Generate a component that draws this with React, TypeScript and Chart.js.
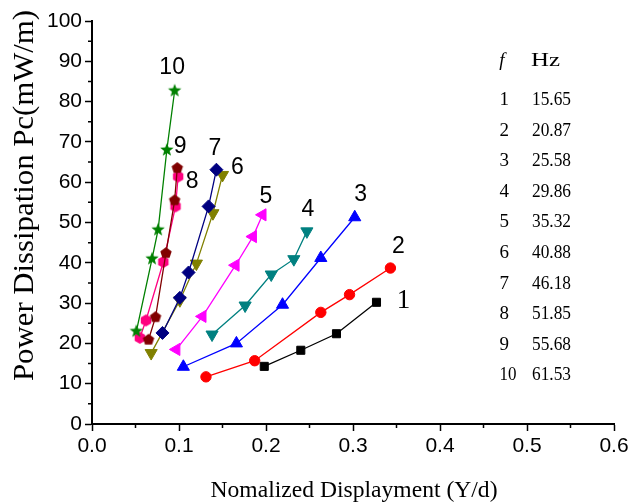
import React, { useEffect, useRef } from "react";
import { Chart, registerables } from "chart.js";

Chart.register(...registerables);

// ---- data ----
const seriesNames = ["1", "2", "3", "4", "5", "6", "7", "8", "9", "10"];
const freqHz = ["15.65", "20.87", "25.58", "29.86", "35.32", "40.88", "46.18", "51.85", "55.68", "61.53"];

const s1x = [0.198, 0.240, 0.281, 0.327];
const s1y = [14.3, 18.3, 22.4, 30.2];
const s2x = [0.131, 0.187, 0.263, 0.296, 0.343];
const s2y = [11.7, 15.7, 27.7, 32.1, 38.7];
const s3x = [0.105, 0.166, 0.219, 0.263, 0.302];
const s3y = [14.2, 20.0, 29.6, 41.2, 51.3];
const s4x = [0.138, 0.176, 0.206, 0.232, 0.247];
const s4y = [22.2, 29.4, 37.1, 40.9, 47.8];
const s5x = [0.097, 0.127, 0.165, 0.185, 0.196];
const s5y = [18.5, 26.7, 39.4, 46.5, 51.9];
const s6x = [0.068, 0.101, 0.120, 0.139, 0.150];
const s6y = [17.6, 30.7, 39.8, 52.3, 61.8];
const s7x = [0.081, 0.101, 0.111, 0.134, 0.143];
const s7y = [22.6, 31.3, 37.6, 54.0, 63.1];
const s8x = [0.055, 0.062, 0.082, 0.096, 0.099];
const s8y = [21.4, 25.7, 40.2, 54.0, 61.4];
const s9x = [0.065, 0.073, 0.085, 0.095, 0.098];
const s9y = [20.9, 26.5, 42.4, 55.5, 63.5];
const s10x = [0.051, 0.069, 0.076, 0.086, 0.095];
const s10y = [23.0, 41.0, 48.2, 68.0, 82.7];

const xTickValues = [0, 0.1, 0.2, 0.3, 0.4, 0.5, 0.6];
const yTickValues = [0, 10, 20, 30, 40, 50, 60, 70, 80, 90, 100];
const xTitle = "Nomalized Displayment (Y/d)";
const yTitle = "Power Dissipation Pc(mW/m)";

// ---- styles ----
const colors = ["#000000", "#FF0000", "#0000FF", "#008080", "#FF00FF", "#808000", "#000080", "#FF0080", "#800000", "#008000"];
const labelOffsets = [[27, -1.5], [8, -21], [6, -22.5], [1, -21.5], [3.5, -18.5], [15, -7], [-1.5, -21.5], [14, 5], [3, -21.5], [-2.5, -23.5]];

const SANS = "'Liberation Sans', Arial, sans-serif";
const SERIF = "'Liberation Serif', 'Times New Roman', serif";

function makeMarker(kind: string, color: string, R: number): HTMLCanvasElement {
  const s = Math.ceil(R * 2 + 2);
  const c = document.createElement("canvas");
  c.width = s;
  c.height = s;
  const g = c.getContext("2d")!;
  const cx = s / 2, cy = s / 2;
  g.beginPath();
  if (kind === "star") {
    const r = R * 0.42;
    for (let k = 0; k < 10; k++) {
      const a = -Math.PI / 2 + (k * Math.PI) / 5;
      const rr = k % 2 === 0 ? R : r;
      const px = cx + rr * Math.cos(a), py = cy + rr * Math.sin(a);
      if (k === 0) g.moveTo(px, py); else g.lineTo(px, py);
    }
  } else {
    const n = kind === "pentagon" ? 5 : 6;
    for (let k = 0; k < n; k++) {
      const a = -Math.PI / 2 + (k * 2 * Math.PI) / n;
      const px = cx + R * Math.cos(a), py = cy + R * Math.sin(a);
      if (k === 0) g.moveTo(px, py); else g.lineTo(px, py);
    }
  }
  g.closePath();
  g.fillStyle = color;
  g.fill();
  return c;
}

function fitText(ctx: CanvasRenderingContext2D, text: string, x: number, y: number, font: string, targetW: number | null, align: CanvasTextAlign, rot = 0) {
  ctx.save();
  ctx.font = font;
  ctx.textAlign = align;
  ctx.textBaseline = "alphabetic";
  ctx.fillStyle = "#000";
  const w = ctx.measureText(text).width;
  const sx = targetW ? targetW / w : 1;
  ctx.translate(x, y);
  if (rot) ctx.rotate(rot);
  ctx.scale(sx, 1);
  ctx.fillText(text, 0, 0);
  ctx.restore();
}

export default function App() {
  const ref = useRef<HTMLCanvasElement>(null);
  useEffect(() => {
    const xs = [s1x, s2x, s3x, s4x, s5x, s6x, s7x, s8x, s9x, s10x];
    const ys = [s1y, s2y, s3y, s4y, s5y, s6y, s7y, s8y, s9y, s10y];
    const styles: any[] = [
      { pointStyle: "rect", pointRadius: 5.7, pointRotation: 0 },
      { pointStyle: "circle", pointRadius: 5.2, pointRotation: 0 },
      { pointStyle: "triangle", pointRadius: 7, pointRotation: 0 },
      { pointStyle: "triangle", pointRadius: 7, pointRotation: 180 },
      { pointStyle: "triangle", pointRadius: 7, pointRotation: 270 },
      { pointStyle: "triangle", pointRadius: 7, pointRotation: 180 },
      { pointStyle: "rectRot", pointRadius: 6.5, pointRotation: 0 },
      { pointStyle: makeMarker("hexagon", colors[7], 6), pointRadius: 6, pointRotation: 0 },
      { pointStyle: makeMarker("pentagon", colors[8], 6), pointRadius: 6, pointRotation: 0 },
      { pointStyle: makeMarker("star", colors[9], 7), pointRadius: 7, pointRotation: 0 },
    ];
    const datasets = xs.map((xa, i) => ({
      label: seriesNames[i],
      data: xa.map((x, j) => ({ x, y: ys[i][j] })),
      showLine: true,
      borderColor: colors[i],
      backgroundColor: colors[i],
      borderWidth: 1.3,
      pointBorderColor: colors[i],
      pointBackgroundColor: colors[i],
      pointBorderWidth: 1,
      order: 10 - i,
      ...styles[i],
    }));

    const overlay = {
      id: "overlay",
      afterDraw(chart: any) {
        const ctx = chart.ctx as CanvasRenderingContext2D;
        const xS = chart.scales.x, yS = chart.scales.y;
        const area = chart.chartArea;
        // minor ticks
        ctx.save();
        ctx.strokeStyle = "#000";
        ctx.lineWidth = 1.5;
        ctx.beginPath();
        for (let i = 0; i < yTickValues.length - 1; i++) {
          const v = (yTickValues[i] + yTickValues[i + 1]) / 2;
          const p = yS.getPixelForValue(v);
          ctx.moveTo(area.left - 4, p);
          ctx.lineTo(area.left, p);
        }
        for (let i = 0; i < xTickValues.length - 1; i++) {
          const v = (xTickValues[i] + xTickValues[i + 1]) / 2;
          const p = xS.getPixelForValue(v);
          ctx.moveTo(p, area.bottom);
          ctx.lineTo(p, area.bottom + 4);
        }
        ctx.stroke();
        ctx.restore();

        // series labels
        ctx.save();
        ctx.fillStyle = "#000";
        ctx.textAlign = "center";
        ctx.textBaseline = "middle";
        xs.forEach((xa, i) => {
          const last = xa.length - 1;
          const px = xS.getPixelForValue(xa[last]) + labelOffsets[i][0];
          const py = yS.getPixelForValue(ys[i][last]) + labelOffsets[i][1];
          ctx.font = i === 0 ? `27px ${SERIF}` : `23px ${SANS}`;
          ctx.fillText(seriesNames[i], px, py);
        });
        ctx.restore();

        // legend table
        fitText(ctx, "f", 502, 65.5, `italic 19px ${SERIF}`, null, "center");
        fitText(ctx, "Hz", 531, 65.5, `19px ${SERIF}`, 29, "left");
        for (let i = 0; i < seriesNames.length; i++) {
          const by = 105 + i * 30.6;
          const nm = seriesNames[i];
          fitText(ctx, nm, 499.5, by, `19px ${SERIF}`, nm.length > 1 ? 17 : null, "left");
          fitText(ctx, freqHz[i], 532, by, `19px ${SERIF}`, 39, "left");
        }

        // axis titles
        fitText(ctx, xTitle, 354, 497, `23px ${SERIF}`, 287, "center");
        fitText(ctx, yTitle, 33, 195.5, `30px ${SERIF}`, 371, "center", -Math.PI / 2);
      },
    };

    const chart = new Chart(ref.current!, {
      type: "scatter",
      data: { datasets } as any,
      options: {
        responsive: false,
        animation: false,
        events: [],
        layout: { padding: { left: 0, right: 19, top: 21, bottom: 0 } },
        plugins: { legend: { display: false }, tooltip: { enabled: false }, title: { display: false } },
        scales: {
          x: {
            type: "linear",
            position: "bottom",
            min: xTickValues[0],
            max: xTickValues[xTickValues.length - 1],
            afterFit: (s: any) => { s.height = 79; },
            afterBuildTicks: (s: any) => { s.ticks = xTickValues.map((v) => ({ value: v })); },
            ticks: {
              color: "#000",
              padding: 3,
              maxRotation: 0,
              autoSkip: false,
              font: { family: SANS, size: 21 },
              callback: (v: any) => Number(v).toFixed(1),
            },
            grid: { display: true, drawOnChartArea: false, drawTicks: true, tickLength: 7, tickWidth: 1.5, tickColor: "#000", color: "#000" },
            border: { display: true, color: "#000", width: 2 },
          },
          y: {
            type: "linear",
            position: "left",
            min: yTickValues[0],
            max: yTickValues[yTickValues.length - 1],
            afterFit: (s: any) => { s.width = 92; },
            afterBuildTicks: (s: any) => { s.ticks = yTickValues.map((v) => ({ value: v })); },
            ticks: {
              color: "#000",
              padding: 3,
              autoSkip: false,
              font: { family: SANS, size: 21 },
              callback: (v: any) => String(v),
            },
            grid: { display: true, drawOnChartArea: false, drawTicks: true, tickLength: 7, tickWidth: 1.5, tickColor: "#000", color: "#000" },
            border: { display: true, color: "#000", width: 2 },
          },
        },
      } as any,
      plugins: [overlay],
    });
    return () => chart.destroy();
  }, []);

  return (
    <div style={{ position: "absolute", left: 0, top: 0, width: 633, height: 503, background: "#fff" }}>
      <canvas ref={ref} width={633} height={503} style={{ display: "block" }} />
    </div>
  );
}
